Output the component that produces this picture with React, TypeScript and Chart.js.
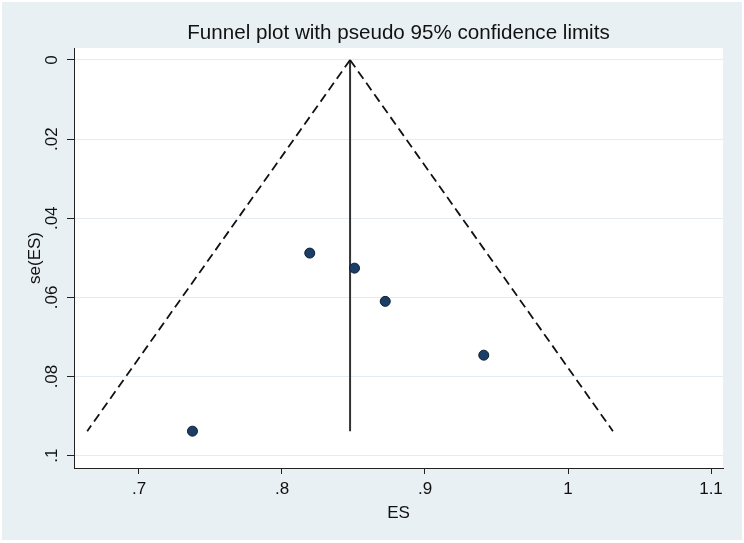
import React, { useEffect, useRef } from "react";
import { Chart, registerables } from "chart.js";

Chart.register(...registerables);

// ---- data ----
const studyES = [0.8194, 0.8507, 0.8722, 0.9411, 0.7374];
const studySE = [0.0488, 0.0526, 0.061, 0.0746, 0.0938];
const pooledX = [0.8476, 0.8476];
const funnelLeftX = [0.8476, 0.6638];
const funnelRightX = [0.8476, 1.0314];
const funnelY = [0, 0.0938];
const xTicks = [0.7, 0.8, 0.9, 1, 1.1];
const xTickLabels = [".7", ".8", ".9", "1", "1.1"];
const yTicks = [0, 0.02, 0.04, 0.06, 0.08, 0.1];
const yTickLabels = ["0", ".02", ".04", ".06", ".08", ".1"];
const titleText = "Funnel plot with pseudo 95% confidence limits";
const xTitle = "ES";
const yTitle = "se(ES)";

const FONT = "'Liberation Sans', Arial, sans-serif";
const BG = "#e9f0f3";

const bgPlugin = {
  id: "bgPlugin",
  beforeDraw(chart: any) {
    const { ctx, width, height, chartArea } = chart;
    ctx.save();
    ctx.fillStyle = "#ffffff";
    ctx.fillRect(0, 0, width, height);
    ctx.fillStyle = BG;
    ctx.fillRect(2, 2, width - 4, height - 5);
    ctx.fillStyle = "#ffffff";
    ctx.fillRect(chartArea.left, chartArea.top, chartArea.right - chartArea.left, chartArea.bottom - chartArea.top);
    ctx.restore();
  },
  afterDraw(chart: any) {
    const { ctx, chartArea } = chart;
    ctx.save();
    ctx.fillStyle = "#111";
    ctx.font = `20.6px ${FONT}`;
    ctx.textAlign = "center";
    ctx.textBaseline = "middle";
    ctx.fillText(titleText, (chartArea.left + chartArea.right) / 2, 33);
    ctx.restore();
  },
};

export default function App() {
  const ref = useRef<HTMLCanvasElement | null>(null);
  useEffect(() => {
    if (!ref.current) return;
    const chart = new Chart(ref.current, {
      type: "scatter",
      data: {
        datasets: [
          {
            label: "studies",
            data: studyES.map((x, i) => ({ x, y: studySE[i] })),
            pointRadius: 5,
            pointHoverRadius: 5,
            backgroundColor: "#1b3e66",
            borderColor: "#0c1f35",
            borderWidth: 1,
            order: 0,
          },
          {
            label: "lower",
            data: funnelLeftX.map((x, i) => ({ x, y: funnelY[i] })),
            showLine: true,
            pointRadius: 0,
            borderColor: "#111",
            borderWidth: 1.8,
            borderDash: [9, 5],
            order: 1,
          },
          {
            label: "upper",
            data: funnelRightX.map((x, i) => ({ x, y: funnelY[i] })),
            showLine: true,
            pointRadius: 0,
            borderColor: "#111",
            borderWidth: 1.8,
            borderDash: [9, 5],
            order: 1,
          },
          {
            label: "pooled",
            data: pooledX.map((x, i) => ({ x, y: funnelY[i] })),
            showLine: true,
            pointRadius: 0,
            borderColor: "#333",
            borderWidth: 2,
            order: 1,
          },
        ],
      },
      options: {
        animation: false,
        responsive: false,
        events: [],
        layout: { padding: { left: 0, top: 48, right: 21, bottom: 0 } },
        plugins: {
          legend: { display: false },
          tooltip: { enabled: false },
          title: { display: false },
        },
        scales: {
          x: {
            type: "linear",
            position: "bottom",
            min: 0.65455,
            max: 1.10839,
            afterBuildTicks: (s: any) => {
              s.ticks = xTicks.map((v) => ({ value: v }));
            },
            afterFit: (s: any) => {
              s.height = 75;
            },
            ticks: {
              color: "#111",
              font: { family: FONT, size: 17 },
              padding: 5,
              maxRotation: 0,
              minRotation: 0,
              callback: (_v: any, i: number) => xTickLabels[i],
            },
            grid: {
              drawOnChartArea: false,
              drawTicks: true,
              tickLength: 6,
              color: "#222",
            },
            border: { display: true, color: "#222", width: 1 },
            title: {
              display: true,
              text: xTitle,
              color: "#111",
              font: { family: FONT, size: 17 },
              padding: { top: 0, bottom: 19 },
            },
          },
          y: {
            type: "linear",
            position: "left",
            reverse: true,
            min: -0.00303,
            max: 0.10311,
            afterBuildTicks: (s: any) => {
              s.ticks = yTicks.map((v) => ({ value: v }));
            },
            afterFit: (s: any) => {
              s.width = 74;
            },
            ticks: {
              color: "#111",
              font: { family: FONT, size: 17 },
              padding: 3,
              minRotation: 90,
              maxRotation: 90,
              crossAlign: "center",
              callback: (_v: any, i: number) => yTickLabels[i],
            },
            grid: {
              drawOnChartArea: true,
              drawTicks: true,
              tickLength: 7,
              color: "#e3ecf0",
              tickColor: "#222",
            },
            border: { display: true, color: "#222", width: 1 },
            title: {
              display: true,
              text: yTitle,
              color: "#111",
              font: { family: FONT, size: 17 },
              padding: { top: 25, bottom: 0 },
            },
          },
        },
      },
      plugins: [bgPlugin],
    } as any);
    return () => chart.destroy();
  }, []);

  return (
    <div style={{ position: "fixed", left: 0, top: 0, width: 744, height: 543, background: "#fff" }}>
      <canvas ref={ref} width={744} height={543} style={{ display: "block", width: 744, height: 543 }} />
    </div>
  );
}
